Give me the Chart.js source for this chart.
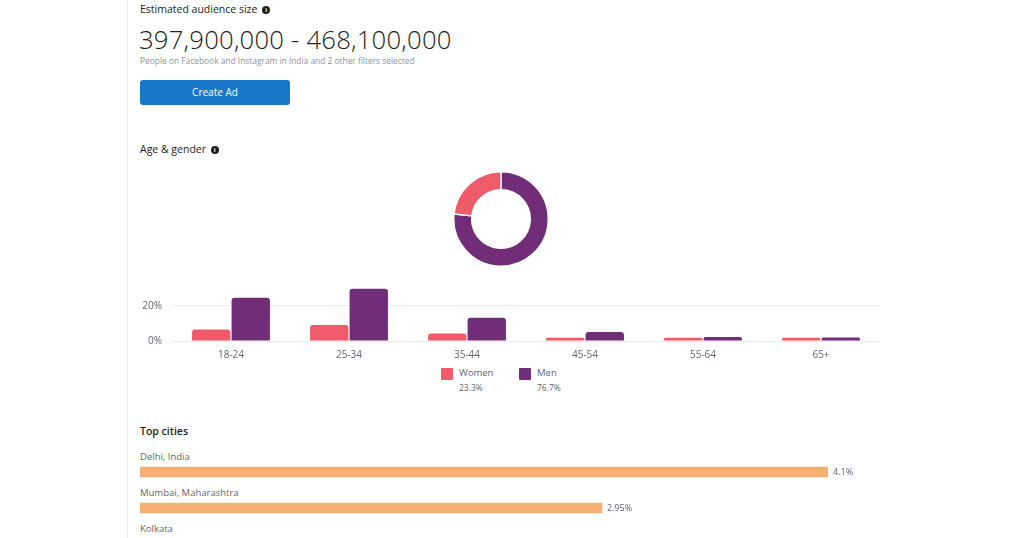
<!DOCTYPE html>
<html lang="en">
<head>
  <meta charset="UTF-8">
  <title>Audience Insights</title>
  <style>
    body {
      margin: 0;
      width: 1024px;
      height: 538px;
      overflow: hidden;
      background: #fff;
      font-family: "Open Sans", "Noto Sans", sans-serif;
      color: #1c1e21;
      position: relative;
    }
    .panel-edge { position: absolute; left: 127px; top: 0; width: 1px; height: 538px; background: #ebedf0; }
    .abs { position: absolute; white-space: nowrap; }
    .title { font-size: 10.5px; }
    .info {
      display: inline-block; width: 8px; height: 8px; border-radius: 50%;
      background: #1c1e21; color: #fff; font-size: 6px; line-height: 8px;
      text-align: center; font-weight: bold; vertical-align: 1px; margin-left: 2px;
    }
    .big { font-size: 25.7px; font-weight: 300; letter-spacing: 0.2px; }
    .sub { font-size: 8.4px; color: #8d949e; }
    .btn {
      position: absolute; left: 140px; top: 80px; width: 150px; height: 25px;
      background: #1877c9; border-radius: 3px; color: #fff; font-size: 10px;
      text-align: center; line-height: 25px;
    }
    .swatch { position: absolute; width: 12px; height: 12px; border-radius: 1px; }
    .leg { font-size: 9.5px; color: #606770; }
    .legpct { font-size: 8.5px; color: #606770; }
    .city { font-size: 9.5px; color: #606770; }
    canvas { position: absolute; }
  </style>
</head>
<body>
  <div class="panel-edge"></div>

  <div class="abs title" style="left:140px; top:2px;">Estimated audience size <span class="info">i</span></div>
  <div class="abs big" style="left:139px; top:22px;">397,900,000 - 468,100,000</div>
  <div class="abs sub" style="left:140px; top:55px;">People on Facebook and Instagram in India and 2 other filters selected</div>
  <div class="btn">Create Ad</div>

  <div class="abs title" style="left:140px; top:142px;">Age &amp; gender <span class="info">i</span></div>

  <div id="donutWrap" style="position:absolute; left:453px; top:171px; width:96px; height:96px;">
    <canvas id="donut"></canvas>
  </div>

  <div id="barWrap" style="position:absolute; left:135px; top:272px; width:745px; height:89px;">
    <canvas id="ageChart"></canvas>
  </div>

  <div class="swatch" style="left:441px; top:368px; background:#ef5b69;"></div>
  <div class="abs leg" style="left:459px; top:366px;">Women</div>
  <div class="abs legpct" style="left:459px; top:382px;" id="womenPct"></div>
  <div class="swatch" style="left:519px; top:368px; background:#722d79;"></div>
  <div class="abs leg" style="left:537px; top:366px;">Men</div>
  <div class="abs legpct" style="left:537px; top:382px;" id="menPct"></div>

  <div class="abs title" style="left:140px; top:424px; font-weight:600;">Top cities</div>
  <div class="abs city" style="left:140px; top:450px;">Delhi, India</div>
  <div class="abs city" style="left:140px; top:486px;">Mumbai, Maharashtra</div>
  <div class="abs city" style="left:140px; top:522px;">Kolkata</div>

  <div id="cityWrap" style="position:absolute; left:140px; top:454px; width:740px; height:72px;">
    <canvas id="cityChart"></canvas>
  </div>

  <script src="https://cdn.jsdelivr.net/npm/chart.js"></script>
  <script>
    // Age & gender data (percent of audience)
    const ageGroups = ['18-24', '25-34', '35-44', '45-54', '55-64', '65+'];
    const womenByAge = [6.5, 9.1, 4.2, 1.8, 1.8, 1.8];
    const menByAge = [24.5, 29.6, 13.2, 5.1, 2.2, 2.0];

    // Gender split
    const genderLabels = ['Men', 'Women'];
    const genderShare = [76.7, 23.3];

    // Top cities
    const cities = ['Delhi, India', 'Mumbai, Maharashtra'];
    const cityShare = [4.1, 2.95];
    const cityLabels = ['4.1%', '2.95%'];

    const PINK = '#ef5b69';
    const PURPLE = '#722d79';
    const ORANGE = '#f7b072';

    document.getElementById('womenPct').textContent = genderShare[1] + '%';
    document.getElementById('menPct').textContent = genderShare[0] + '%';

    // Doughnut
    new Chart(document.getElementById('donut'), {
      type: 'doughnut',
      data: {
        labels: genderLabels,
        datasets: [{
          data: genderShare,
          backgroundColor: [PURPLE, PINK],
          borderColor: '#fff',
          borderWidth: 1.5
        }]
      },
      options: {
        responsive: true,
        maintainAspectRatio: false,
        animation: false,
        cutout: '62%',
        plugins: { legend: { display: false }, tooltip: { enabled: false } }
      }
    });

    // Age bar chart
    new Chart(document.getElementById('ageChart'), {
      type: 'bar',
      data: {
        labels: ageGroups,
        datasets: [
          { label: 'Women', data: womenByAge, backgroundColor: PINK },
          { label: 'Men', data: menByAge, backgroundColor: PURPLE }
        ]
      },
      options: {
        responsive: true,
        maintainAspectRatio: false,
        animation: false,
        layout: { padding: { top: 6, right: 0, left: 0, bottom: 0 } },
        datasets: {
          bar: {
            categoryPercentage: 0.67,
            barPercentage: 0.97,
            borderRadius: { topLeft: 3, topRight: 3 },
            borderSkipped: 'bottom'
          }
        },
        scales: {
          x: {
            grid: { display: false },
            border: { display: false },
            ticks: { color: '#606770', font: { family: 'Open Sans', size: 10 }, padding: 0 }
          },
          y: {
            min: 0,
            max: 30,
            afterFit: (scale) => { scale.width = 37; },
            afterBuildTicks: (scale) => { scale.ticks = [{ value: 0 }, { value: 20 }]; },
            border: { display: false },
            grid: { color: '#e9ebee', drawTicks: false },
            ticks: {
              color: '#606770',
              font: { family: 'Open Sans', size: 10 },
              padding: 10,
              callback: (v) => v + '%'
            }
          }
        },
        plugins: { legend: { display: false }, tooltip: { enabled: false } }
      }
    });

    // value labels at the end of city bars
    const endLabels = {
      id: 'endLabels',
      afterDatasetsDraw(chart) {
        const ctx = chart.ctx;
        const meta = chart.getDatasetMeta(0);
        ctx.save();
        ctx.fillStyle = '#606770';
        ctx.font = '9px "Open Sans"';
        ctx.textBaseline = 'middle';
        meta.data.forEach((bar, i) => {
          ctx.fillText(cityLabels[i], bar.x + 5, bar.y);
        });
        ctx.restore();
      }
    };

    new Chart(document.getElementById('cityChart'), {
      type: 'bar',
      data: {
        labels: cities,
        datasets: [{ data: cityShare, backgroundColor: ORANGE, barThickness: 10 }]
      },
      options: {
        indexAxis: 'y',
        responsive: true,
        maintainAspectRatio: false,
        animation: false,
        layout: { padding: { right: 52 } },
        scales: {
          x: { display: false, min: 0.6, max: 4.1 },
          y: { display: false }
        },
        plugins: { legend: { display: false }, tooltip: { enabled: false } }
      },
      plugins: [endLabels]
    });
  </script>
</body>
</html>
